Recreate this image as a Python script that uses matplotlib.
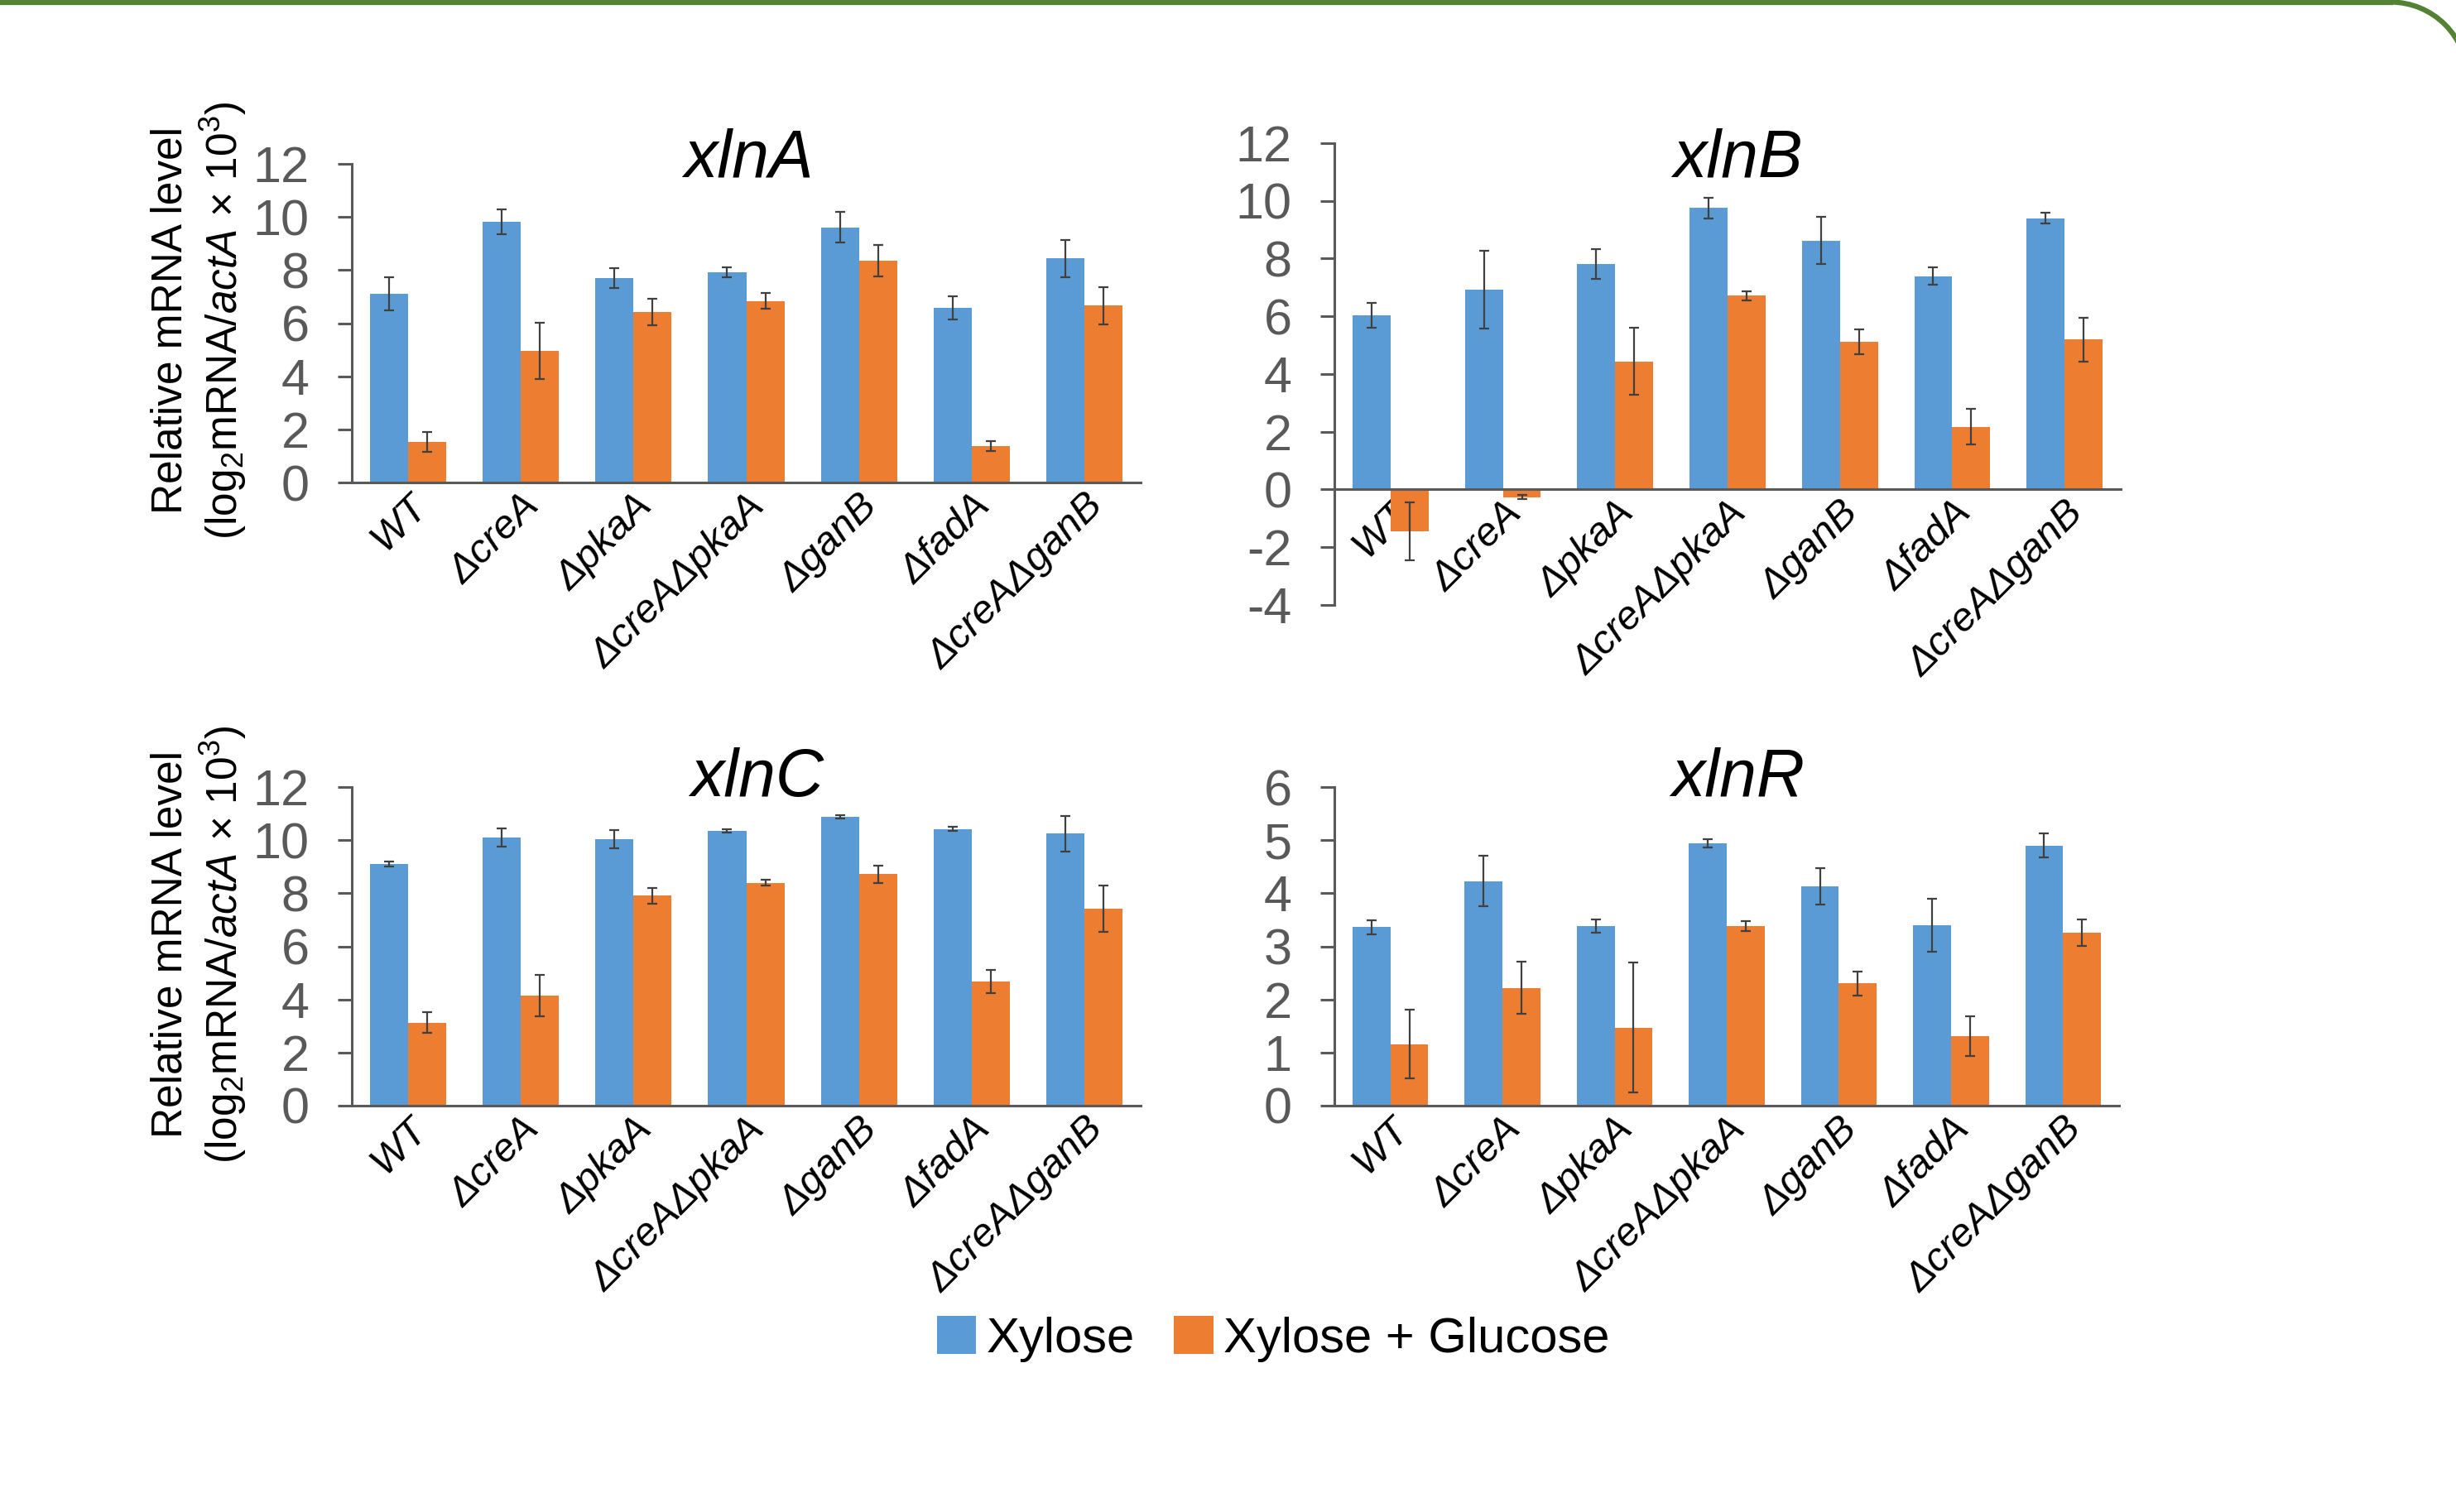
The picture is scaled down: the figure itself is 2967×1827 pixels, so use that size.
import matplotlib
matplotlib.use('Agg')
import matplotlib.pyplot as plt
import numpy as np
from matplotlib.patches import Patch, Arc
from matplotlib.lines import Line2D

plt.rcParams['font.family'] = ['Liberation Sans', 'DejaVu Sans']
plt.rcParams['mathtext.fontset'] = 'custom'
plt.rcParams['mathtext.rm'] = 'Liberation Sans'
plt.rcParams['mathtext.it'] = 'Liberation Sans:italic'

strains = ['WT', 'ΔcreA', 'ΔpkaA', 'ΔcreAΔpkaA', 'ΔganB', 'ΔfadA', 'ΔcreAΔganB']
series = ['Xylose', 'Xylose + Glucose']

xlnA_xyl = [7.11, 9.81, 7.70, 7.91, 9.61, 6.57, 8.44]
xlnA_xyl_err = [0.62, 0.47, 0.36, 0.18, 0.57, 0.43, 0.70]
xlnA_glc = [1.52, 4.96, 6.42, 6.84, 8.35, 1.37, 6.66]
xlnA_glc_err = [0.37, 1.07, 0.50, 0.30, 0.58, 0.20, 0.71]

xlnB_xyl = [6.04, 6.93, 7.81, 9.75, 8.63, 7.39, 9.40]
xlnB_xyl_err = [0.42, 1.35, 0.51, 0.36, 0.82, 0.30, 0.19]
xlnB_glc = [-1.44, -0.26, 4.44, 6.71, 5.12, 2.17, 5.19]
xlnB_glc_err = [1.00, 0.06, 1.17, 0.17, 0.44, 0.62, 0.76]

xlnC_xyl = [9.10, 10.10, 10.03, 10.34, 10.88, 10.42, 10.24]
xlnC_xyl_err = [0.10, 0.34, 0.34, 0.06, 0.07, 0.07, 0.66]
xlnC_glc = [3.13, 4.16, 7.91, 8.40, 8.72, 4.67, 7.42]
xlnC_glc_err = [0.38, 0.78, 0.30, 0.10, 0.33, 0.43, 0.88]

xlnR_xyl = [3.36, 4.23, 3.38, 4.94, 4.13, 3.40, 4.90]
xlnR_xyl_err = [0.13, 0.47, 0.12, 0.08, 0.34, 0.50, 0.22]
xlnR_glc = [1.16, 2.22, 1.47, 3.38, 2.30, 1.31, 3.26]
xlnR_glc_err = [0.65, 0.49, 1.22, 0.09, 0.23, 0.37, 0.25]

BLUE = '#5B9BD5'
ORANGE = '#ED7D31'
GREY = '#595959'

W, H = 2967, 1827
fig = plt.figure(figsize=(W / 100, H / 100), dpi=100)


def px_axes(left, top, right, bottom):
    return fig.add_axes([left / W, 1 - bottom / H, (right - left) / W, (bottom - top) / H])


def panel(ax, name, xyl, xyl_err, glc, glc_err, ylim, step, title_xy):
    x = np.arange(len(strains))
    w = 0.338
    ekw = dict(ecolor='#404040', elinewidth=1.6, capsize=4, capthick=1.6)
    ax.bar(x - w / 2, xyl, w, color=BLUE, yerr=xyl_err, error_kw=ekw, zorder=2)
    ax.bar(x + w / 2, glc, w, color=ORANGE, yerr=glc_err, error_kw=ekw, zorder=2)
    ax.set_xlim(-0.5, len(strains) - 0.5)
    ax.set_ylim(*ylim)
    ticks = np.arange(ylim[0], ylim[1] + 0.01, step)
    ax.set_yticks(ticks)
    ax.set_yticklabels([f'{v:g}' for v in ticks])
    for s in ['top', 'right']:
        ax.spines[s].set_visible(False)
    for s in ['left', 'bottom']:
        ax.spines[s].set_color(GREY)
        ax.spines[s].set_linewidth(2.2)
    ax.spines['bottom'].set_position(('data', 0))
    ax.tick_params(axis='y', length=12, width=2.2, color=GREY, labelcolor=GREY,
                   labelsize=44, pad=25)
    ax.tick_params(axis='x', length=0, pad=4)
    ax.set_xticks(x)
    ax.set_xticklabels(strains, rotation=45, ha='right', va='top',
                       rotation_mode='anchor', fontsize=35, style='italic', color='black')
    ax.patch.set_visible(False)
    fig.text(title_xy[0] / W, 1 - title_xy[1] / H, name, ha='center', va='baseline',
             fontsize=58, style='italic', color='black')


axA = px_axes(425, 198, 1378, 583)
axB = px_axes(1612, 173, 2562, 731)
axC = px_axes(425, 951, 1378, 1336)
axR = px_axes(1612, 951, 2560, 1336)

panel(axA, 'xlnA', xlnA_xyl, xlnA_xyl_err, xlnA_glc, xlnA_glc_err, (0, 12), 2, (905, 214))
panel(axB, 'xlnB', xlnB_xyl, xlnB_xyl_err, xlnB_glc, xlnB_glc_err, (-4, 12), 2, (2100, 214))
panel(axC, 'xlnC', xlnC_xyl, xlnC_xyl_err, xlnC_glc, xlnC_glc_err, (0, 12), 2, (915, 962))
panel(axR, 'xlnR', xlnR_xyl, xlnR_xyl_err, xlnR_glc, xlnR_glc_err, (0, 6), 1, (2100, 962))

for yc in [387, 1141]:
    fig.text(206 / W, 1 - yc / H, 'Relative mRNA level', rotation=90,
             ha='center', va='center', fontsize=37)
    fig.text(270 / W, 1 - yc / H, r'(log$_2$mRNA/$\mathit{actA}$ × 10$^3$)', rotation=90,
             ha='center', va='center', fontsize=37)

handles = [Patch(facecolor=BLUE), Patch(facecolor=ORANGE)]
fig.legend(handles, series, loc='center', bbox_to_anchor=(1538 / W, 1 - 1618 / H),
           ncol=2, frameon=False, fontsize=43, handlelength=0.8, handleheight=0.8,
           handletextpad=0.2, columnspacing=0.8)

# green rounded frame at top
green = '#548235'
fig.add_artist(Line2D([0, 28.88], [18.245, 18.245], transform=fig.dpi_scale_trans,
                      color=green, lw=4.5))
fig.add_artist(Arc((28.88, 17.315), 1.86, 1.86, theta1=0, theta2=90,
                   transform=fig.dpi_scale_trans, color=green, lw=4.5))

fig.savefig('out.png', dpi=100, facecolor='white')
